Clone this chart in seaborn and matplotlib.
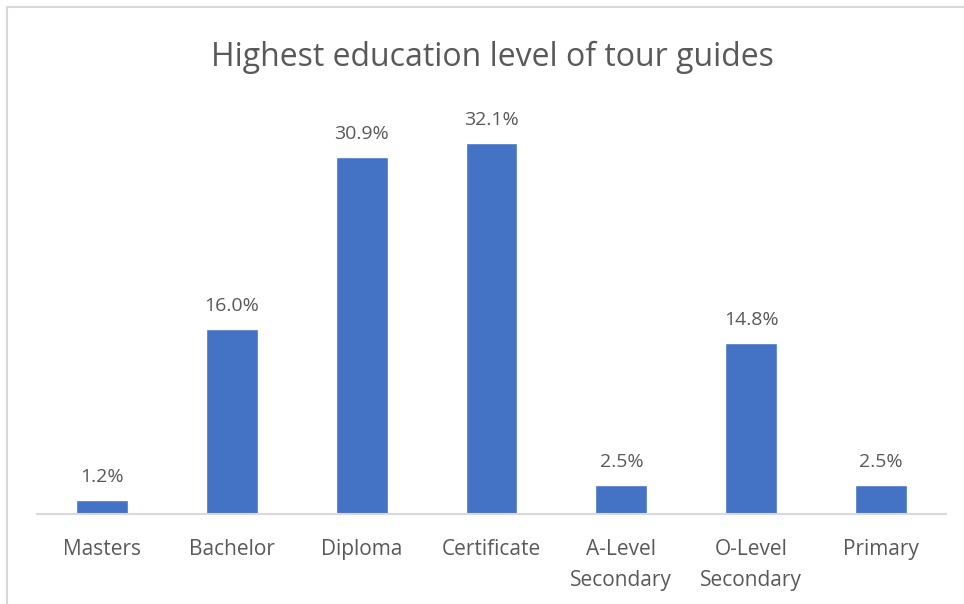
import matplotlib
matplotlib.use("Agg")
import matplotlib.pyplot as plt
import seaborn as sns
import pandas as pd
from matplotlib.lines import Line2D

categories = ["Masters", "Bachelor", "Diploma", "Certificate",
              "A-Level\nSecondary", "O-Level\nSecondary", "Primary"]
values = [1.2, 16.0, 30.9, 32.1, 2.5, 14.8, 2.5]
title = "Highest education level of tour guides"

df = pd.DataFrame({"cat": categories, "val": values})

sns.set_theme(style="white")
plt.rcParams['font.family'] = ['Open Sans', 'DejaVu Sans']

W, H = 964, 604
fig = plt.figure(figsize=(W / 100, H / 100), dpi=100)
ax = fig.add_axes([37 / W, (H - 514) / H, (946 - 37) / W, (514 - 109.5) / H])

sns.barplot(data=df, x="cat", y="val", color="#4472C4", width=0.4,
            saturation=1, ax=ax)
ax.set_ylim(0, 35)
ax.set_xlim(-0.5, len(categories) - 0.5)

text_color = "#595959"
for i, v in enumerate(values):
    ax.annotate(f"{v:.1f}%", (i, v), xytext=(0, 10), textcoords="offset points",
                ha="center", va="bottom", fontsize=14, color=text_color)

ax.set_xlabel("")
ax.set_ylabel("")
ax.set_yticks([])
ax.tick_params(axis="x", length=0, pad=18, labelsize=15, labelcolor=text_color)
for lab in ax.get_xticklabels():
    lab.set_linespacing(1.6)
for s in ["top", "right", "left"]:
    ax.spines[s].set_visible(False)
ax.spines["bottom"].set_color("#D9D9D9")
ax.spines["bottom"].set_linewidth(1.5)

fig.text(492 / W, 1 - 57 / H, title, ha="center", va="center",
         fontsize=23, color=text_color)

# chart area border (top and left visible)
fig.add_artist(Line2D([7 / W, 1.0], [1 - 7 / H, 1 - 7 / H],
                      transform=fig.transFigure, color="#D9D9D9", lw=1.5))
fig.add_artist(Line2D([7 / W, 7 / W], [0.0, 1 - 7 / H],
                      transform=fig.transFigure, color="#D9D9D9", lw=1.5))

fig.savefig("out.png", dpi=100, facecolor="white")
